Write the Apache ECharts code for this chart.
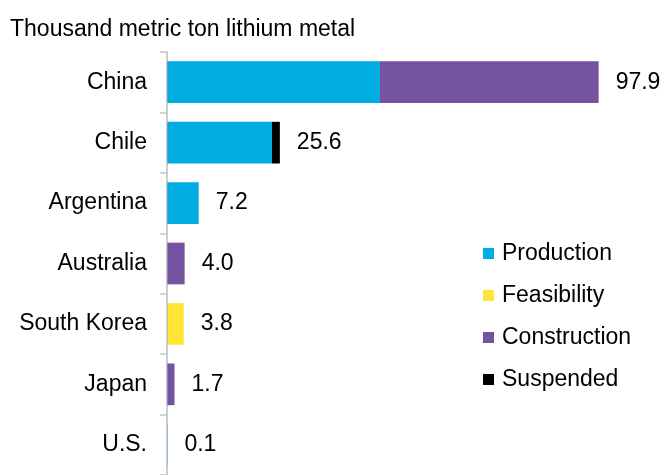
<!DOCTYPE html>
<html>
<head>
<meta charset="utf-8">
<style>
  html, body { margin: 0; padding: 0; background: #ffffff; }
  #chart { width: 663px; height: 475px; }
</style>
<script src="https://cdn.jsdelivr.net/npm/echarts@6/dist/echarts.min.js"></script>
</head>
<body>
<div id="chart"></div>
<script>
// Lithium metal capacity by country and project stage (thousand metric tons)
const countries   = ['China', 'Chile', 'Argentina', 'Australia', 'South Korea', 'Japan', 'U.S.'];
const production  = [48.3, 23.8, 7.2, 0,   0,   0,   0.1];
const feasibility = [0,    0,    0,   0,   3.8, 0,   0];
const construction= [49.6, 0,    0,   4.0, 0,   1.7, 0];
const suspended   = [0,    1.8,  0,   0,   0,   0,   0];
const totals      = [97.9, 25.6, 7.2, 4.0, 3.8, 1.7, 0.1];

const FONT = "'Liberation Sans', Arial, sans-serif";

const chart = echarts.init(document.getElementById('chart'), null, { renderer: 'canvas' });

function stage(name, data, color) {
  return {
    name: name,
    type: 'bar',
    stack: 'total',
    data: data,
    barCategoryGap: '31%',
    itemStyle: { color: color },
    emphasis: { disabled: true }
  };
}

chart.setOption({
  animation: false,
  title: {
    text: 'Thousand metric ton lithium metal',
    left: 5,
    top: 13,
    textStyle: { fontFamily: FONT, fontSize: 23, fontWeight: 'normal', color: '#000' }
  },
  legend: {
    orient: 'vertical',
    left: 478,
    top: 237,
    itemWidth: 11,
    itemHeight: 11,
    itemGap: 19,
    icon: 'rect',
    data: ['Production', 'Feasibility', 'Construction', 'Suspended'],
    textStyle: { fontFamily: FONT, fontSize: 23, color: '#000', padding: [0, 0, 0, 3], lineHeight: 23 }
  },
  grid: { left: 167, top: 52, width: 485, height: 428 },
  xAxis: {
    type: 'value',
    min: 0,
    max: 110,
    show: false
  },
  yAxis: {
    type: 'category',
    data: countries,
    inverse: true,
    z: 5,
    axisLine: { show: true, lineStyle: { color: 'rgba(160,170,180,0.75)', width: 1.5 } },
    axisTick: { show: true, length: 7, lineStyle: { color: '#c4c4c4', width: 1.5 } },
    axisLabel: { fontFamily: FONT, fontSize: 23, color: '#000', margin: 20 }
  },
  series: [
    stage('Production', production, '#00ADE3'),
    stage('Feasibility', feasibility, '#FFE536'),
    stage('Construction', construction, '#7653A1'),
    stage('Suspended', suspended, '#000000'),
    {
      name: 'Total',
      type: 'bar',
      stack: 'total',
      data: countries.map(() => 0),
      itemStyle: { color: 'transparent' },
      label: {
        show: true,
        position: 'right',
        distance: 17,
        fontFamily: FONT,
        fontSize: 23,
        color: '#000',
        formatter: p => totals[p.dataIndex].toFixed(1)
      }
    }
  ]
});
</script>
</body>
</html>
